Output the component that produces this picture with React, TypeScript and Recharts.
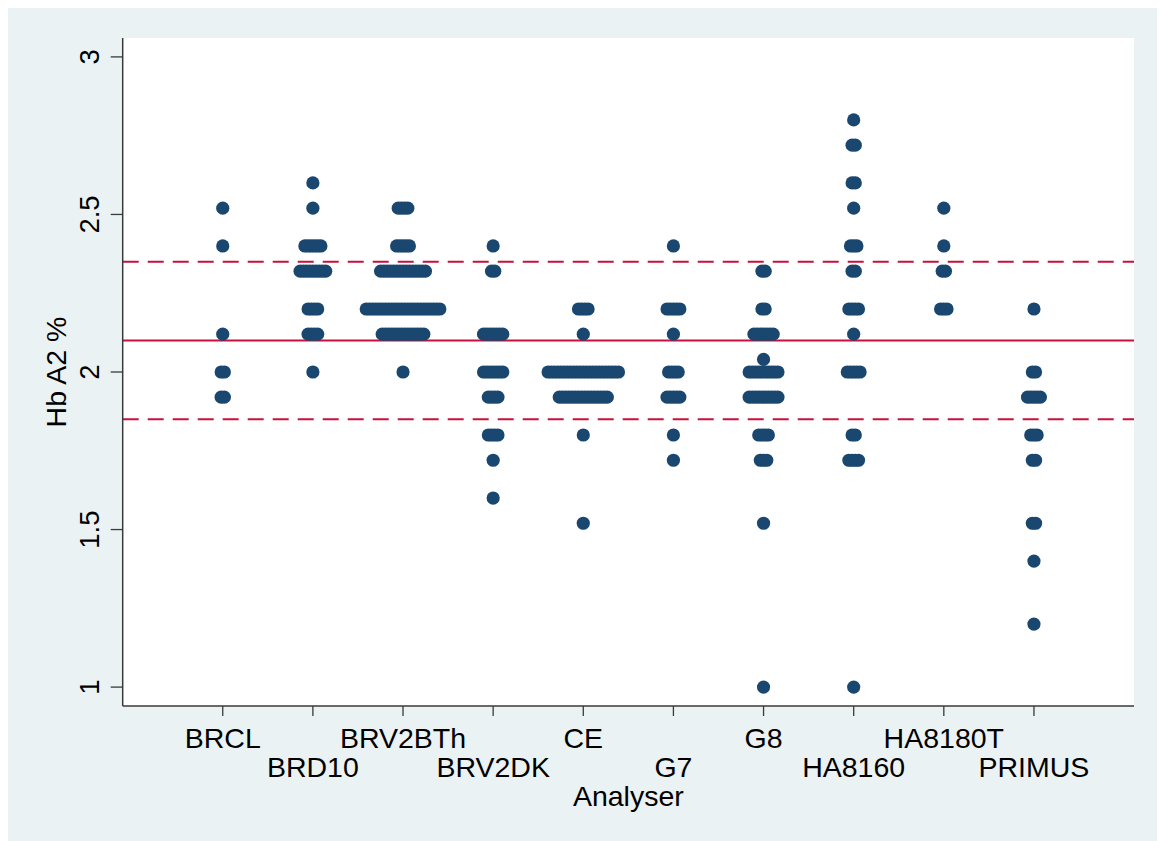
import React from "react";
import { ScatterChart, Scatter, XAxis, YAxis, ReferenceLine, CartesianGrid } from "recharts";

// Categories (analysers) in axis order
const categories = ["BRCL", "BRD10", "BRV2BTh", "BRV2DK", "CE", "G7", "G8", "HA8160", "HA8180T", "PRIMUS"];

// [Hb A2 %, number of observations] per analyser
const BRCL = [[2.52, 1], [2.4, 1], [2.12, 1], [2.0, 2], [1.92, 2]];
const BRD10 = [[2.6, 1], [2.52, 1], [2.4, 6], [2.32, 9], [2.2, 4], [2.12, 4], [2.0, 1]];
const BRV2BTh = [[2.52, 4], [2.4, 5], [2.32, 15], [2.2, 24], [2.12, 14], [2.0, 1]];
const BRV2DK = [[2.4, 1], [2.32, 2], [2.12, 7], [2.0, 7], [1.92, 4], [1.8, 4], [1.72, 1], [1.6, 1]];
const CE = [[2.2, 4], [2.12, 1], [2.0, 23], [1.92, 16], [1.8, 1], [1.52, 1]];
const G7 = [[2.4, 1], [2.2, 5], [2.12, 1], [2.0, 4], [1.92, 5], [1.8, 1], [1.72, 1]];
const G8 = [[2.32, 2], [2.2, 2], [2.12, 7], [2.04, 1], [2.0, 10], [1.92, 10], [1.8, 4], [1.72, 3], [1.52, 1], [1.0, 1]];
const HA8160 = [[2.8, 1], [2.72, 2], [2.6, 2], [2.52, 1], [2.4, 3], [2.32, 2], [2.2, 4], [2.12, 1], [2.0, 5], [1.8, 2], [1.72, 4], [1.0, 1]];
const HA8180T = [[2.52, 1], [2.4, 1], [2.32, 2], [2.2, 3]];
const PRIMUS = [[2.2, 1], [2.0, 2], [1.92, 5], [1.8, 3], [1.72, 2], [1.52, 2], [1.4, 1], [1.2, 1]];

const groups = [BRCL, BRD10, BRV2BTh, BRV2DK, CE, G7, G8, HA8160, HA8180T, PRIMUS];

const yTicks = [1, 1.5, 2, 2.5, 3];
const meanLine = 2.1;
const lowerLine = 1.85;
const upperLine = 2.35;

// horizontal spacing between stacked dots, in category units
const STEP = 0.0355;

const points: { x: number; y: number }[] = [];
groups.forEach((g, i) => {
  g.forEach(([v, n]) => {
    for (let j = 0; j < n; j++) {
      points.push({ x: i + 1 + (j - (n - 1) / 2) * STEP, y: v });
    }
  });
});

const NAVY = "#1a476f";
const CRAN = "#c8103c";
const AXIS = "#3a3a3a";
const FONT = "'Liberation Sans', Arial, sans-serif";

const XTick = (props: any) => {
  const { x, y, payload } = props;
  const idx = Math.round(payload.value) - 1;
  const row = idx % 2;
  return (
    <text x={x} y={y + (row ? 61.2 : 32.3)} textAnchor="middle" fontSize={28.5} fontFamily={FONT} fill="#000">
      {categories[idx]}
    </text>
  );
};

const YTick = (props: any) => {
  const { x, y, payload } = props;
  const bx = x - 11.7;
  return (
    <text x={bx} y={y} textAnchor="middle" fontSize={27.5} fontFamily={FONT} fill="#000" transform={`rotate(-90, ${bx}, ${y})`}>
      {String(payload.value)}
    </text>
  );
};

const YLabel = (props: any) => {
  const vb = props.viewBox || {};
  const bx = 58;
  const cy = vb.y + vb.height / 2;
  return (
    <text x={bx} y={cy} textAnchor="middle" fontSize={28.5} fontFamily={FONT} fill="#000" transform={`rotate(-90, ${bx}, ${cy})`}>
      Hb A2 %
    </text>
  );
};

const XLabel = (props: any) => {
  const vb = props.viewBox || {};
  return (
    <text x={vb.x + vb.width / 2} y={797.5} textAnchor="middle" fontSize={28.5} fontFamily={FONT} fill="#000">
      Analyser
    </text>
  );
};

const Dot = (props: any) => <circle cx={props.cx} cy={props.cy} r={6.6} fill={NAVY} />;

export default function App() {
  return (
    <div style={{ width: 1157, height: 833, background: "#eaf2f3" }}>
      <ScatterChart width={1157} height={833} margin={{ top: 30, right: 31, bottom: 35, left: 54.7 }}>
        <CartesianGrid fill="#ffffff" stroke="none" horizontal={false} vertical={false} />
        <XAxis
          type="number"
          dataKey="x"
          domain={[-0.11, 11.11]}
          ticks={[1, 2, 3, 4, 5, 6, 7, 8, 9, 10]}
          allowDataOverflow
          height={100}
          tickSize={10}
          tickMargin={0}
          axisLine={{ stroke: AXIS, strokeWidth: 1.5 }}
          tickLine={{ stroke: AXIS, strokeWidth: 1.3 }}
          tick={<XTick />}
          interval={0}
          label={<XLabel />}
        />
        <YAxis
          type="number"
          dataKey="y"
          domain={[0.94, 3.06]}
          ticks={yTicks}
          allowDataOverflow
          width={60}
          tickSize={12}
          tickMargin={0}
          axisLine={{ stroke: AXIS, strokeWidth: 1.5 }}
          tickLine={{ stroke: AXIS, strokeWidth: 1.3 }}
          tick={<YTick />}
          interval={0}
          label={<YLabel />}
        />
        <Scatter data={points} shape={<Dot />} isAnimationActive={false} />
        <ReferenceLine y={meanLine} stroke={CRAN} strokeWidth={2} />
        <ReferenceLine y={upperLine} stroke={CRAN} strokeWidth={2} strokeDasharray="16 9" />
        <ReferenceLine y={lowerLine} stroke={CRAN} strokeWidth={2} strokeDasharray="16 9" />
      </ScatterChart>
    </div>
  );
}
